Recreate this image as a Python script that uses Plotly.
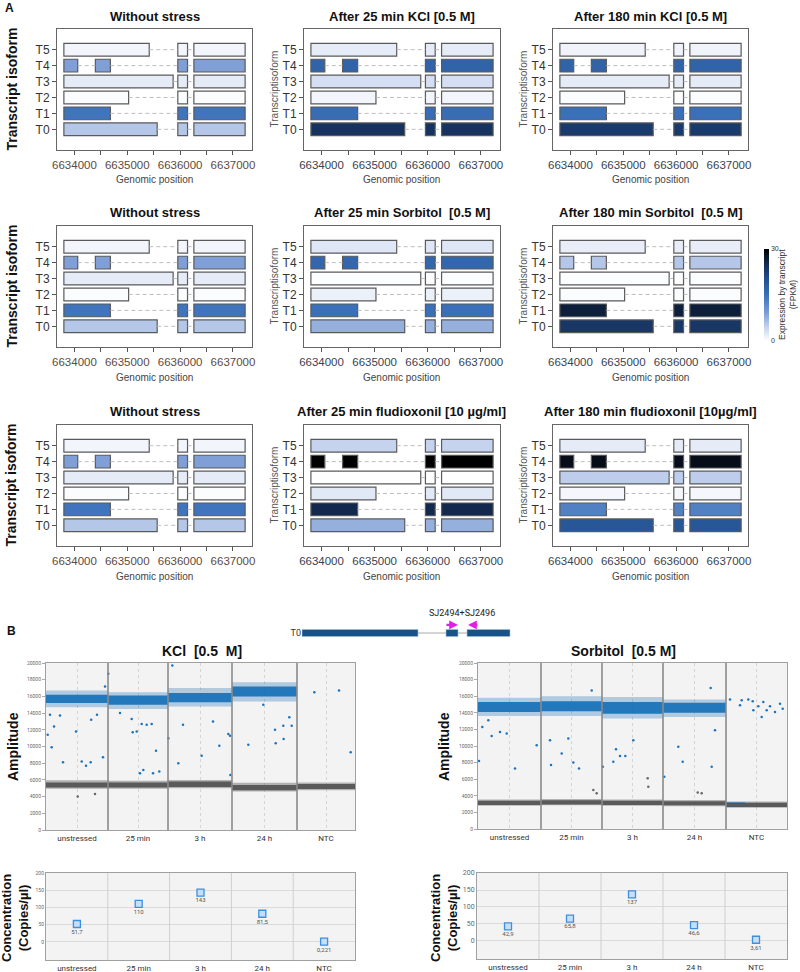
import plotly.graph_objects as go

FIG_W, FIG_H = 800, 972
FONT = "Liberation Sans, Arial, sans-serif"
FONT_B = "Roboto, Liberation Sans, sans-serif"

# ---------------- Panel A data ----------------
TRANSCRIPTS = ["T0", "T1", "T2", "T3", "T4", "T5"]
T0_EXONS = [[6633800, 6635566], [6635956, 6636140], [6636260, 6637230]]
T1_EXONS = [[6633800, 6634680], [6635956, 6636140], [6636260, 6637230]]
T2_EXONS = [[6633800, 6635025], [6635956, 6636140], [6636260, 6637230]]
T3_EXONS = [[6633800, 6635868], [6635956, 6636140], [6636260, 6637230]]
T4_EXONS = [[6633800, 6634062], [6634396, 6634680], [6635956, 6636140], [6636260, 6637230]]
T5_EXONS = [[6633800, 6635415], [6635956, 6636140], [6636260, 6637230]]
GENOMIC_TICKS = [6634000, 6635000, 6636000, 6637000]
GENOMIC_MINOR = [6634500, 6635500, 6636500]
GENOMIC_RANGE = [6633670, 6637360]

# expression (FPKM) per transcript, order T0..T5
EXPR_NO_STRESS = [5.5, 14.5, 0.3, 2.0, 9.0, 1.0]
EXPR_KCL_25 = [24.0, 15.5, 1.0, 3.3, 17.0, 2.0]
EXPR_KCL_180 = [23.0, 15.0, 0.3, 2.0, 17.0, 1.2]
EXPR_SORB_25 = [7.5, 15.0, 1.5, 0.2, 16.5, 2.5]
EXPR_SORB_180 = [23.5, 26.5, 0.3, 0.2, 5.5, 1.8]
EXPR_FLU_25 = [7.5, 25.5, 2.3, 0.1, 30.0, 4.5]
EXPR_FLU_180 = [19.0, 13.0, 0.8, 5.0, 28.5, 2.0]
EXPR_RANGE = [0, 30]

PANEL_TITLES = ["Without stress", "After 25 min KCl [0.5 M]", "After 180 min KCl [0.5 M]",
                "Without stress", "After 25 min Sorbitol\u00a0 [0.5 M]", "After 180 min Sorbitol\u00a0 [0.5 M]",
                "Without stress", "After 25 min fludioxonil [10 µg/ml]", "After 180 min fludioxonil [10µg/ml]"]
PANEL_EXPR = [EXPR_NO_STRESS, EXPR_KCL_25, EXPR_KCL_180,
              EXPR_NO_STRESS, EXPR_SORB_25, EXPR_SORB_180,
              EXPR_NO_STRESS, EXPR_FLU_25, EXPR_FLU_180]

# ---------------- Panel B data ----------------
SCHEME_LABEL = "T0"
SCHEME_EXONS = [[0, 116], [144, 156], [165, 208]]
PRIMER_FWD = [143, 156]
PRIMER_REV = [177, 166]
PRIMER_NAME = "SJ2494+SJ2496"

WELLS = ["unstressed", "25 min", "3 h", "24 h", "NTC"]

KCL_WELL_EVENTS = [15500, 15000, 16000, 16250, 14500]
KCL_POS_CORE = [[15200, 16200], [15000, 16100], [15300, 16400], [16000, 17200], None]
KCL_POS_HALO = [[14700, 16700], [14500, 16500], [14800, 17000], [15400, 17700], None]
KCL_NEG_CORE = [[5100, 5700], [5100, 5700], [5150, 5800], [4750, 5400], [4900, 5500]]
KCL_NEG_HALO = [[4950, 5950], [4950, 5900], [5000, 6000], [4600, 5650], [4750, 5700]]
KCL_OUT_POS_X = [425, 1425, 2000, 4250, 8925, 10000, 11175, 14250, 7500, 1000, 3500, 11300, 12750, 14750,
                 15575, 21675, 22675, 23925, 25175, 26425, 27500, 28325, 24325, 23500, 26750, 21425, 18500,
                 31575, 30575, 33075, 38925, 43325, 45575, 46000, 46100, 34250, 41750,
                 50575, 57250, 59325, 61425, 60825, 57425, 59400, 54325,
                 67075, 73250, 76175]
KCL_OUT_POS_Y = [11400, 9900, 12400, 8100, 8200, 7700, 8100, 8700, 11800, 13800, 13700, 13200, 13800, 17200,
                 18700, 11700, 11800, 12700, 12600, 12700, 9500, 7000, 7200, 6800, 6800, 13300, 14000,
                 19700, 11000, 8000, 8900, 10100, 11500, 11300, 6600, 12600, 13000,
                 10200, 12000, 12500, 12500, 13500, 10400, 10900, 15000,
                 16500, 16700, 9300]
KCL_OUT_NEG_X = [7925, 12250]
KCL_OUT_NEG_Y = [4000, 4300]

SORB_WELL_EVENTS = [15750, 15250, 15250, 15750, 15250]
SORB_POS_CORE = [[14100, 15300], [14200, 15400], [13900, 15300], [14000, 15200], None]
SORB_POS_HALO = [[13600, 15800], [13600, 16000], [13300, 15900], [13500, 15600], None]
SORB_NEG_CORE = [[2900, 3400], [2950, 3450], [2900, 3400], [2850, 3350], [2650, 3150]]
SORB_NEG_HALO = [[2800, 3550], [2850, 3600], [2800, 3550], [2750, 3500], [2550, 3300]]
SORB_LOWPOS_EVENTS = [62000, 66750]
SORB_LOWPOS_AMP = [3050, 3200]
SORB_OUT_POS_X = [250, 1075, 3425, 9250, 14675, 5500, 7175, 2575,
                  18250, 20925, 23825, 25250, 18000, 22575, 28425,
                  31200, 34500, 35500, 36825, 33825, 38825,
                  46575, 50075, 51175, 58425, 58175, 59250,
                  63000, 65925, 67575, 68675, 70075, 71325, 72175, 73000, 74250, 75500, 76175, 70925, 65500, 68825]
SORB_OUT_POS_Y = [8200, 12300, 11200, 7300, 10100, 11700, 11500, 13100,
                  7700, 9100, 8000, 7300, 10700, 10900, 16700,
                  7500, 9600, 8800, 8800, 8100, 10700,
                  6300, 9900, 8100, 7500, 17000, 11900,
                  15600, 15500, 15600, 15400, 14800, 15300, 14300, 14800, 14100, 15100, 14500, 13500, 14900, 14300]
SORB_OUT_NEG_X = [28825, 29675, 42425, 42575, 54925, 55925]
SORB_OUT_NEG_Y = [4700, 4300, 6100, 5100, 4400, 4300]

KCL_CONC = [51.7, 110, 143, 81.5, 0.221]
KCL_CONC_ERR = [3, 4, 4, 3.5, 0.6]
KCL_CONC_LABELS = ["51,7", "110", "143", "81,5", "0,221"]
SORB_CONC = [42.9, 65.8, 137, 46.6, 3.61]
SORB_CONC_ERR = [3, 3.5, 4, 3, 1]
SORB_CONC_LABELS = ["42,9", "65,8", "137", "46,6", "3,61"]


# ---------------- helpers ----------------
def xdom(a, b):
    return [a / FIG_W, b / FIG_W]


def ydom(a, b):
    return [1 - b / FIG_H, 1 - a / FIG_H]


def px(x):
    return x / FIG_W


def py(y):
    return 1 - y / FIG_H


def ax_names(i):
    return ("xaxis" if i == 1 else f"xaxis{i}", "yaxis" if i == 1 else f"yaxis{i}",
            "x" if i == 1 else f"x{i}", "y" if i == 1 else f"y{i}")


annotations = []
shapes = []


def ann(text, x, y, size, color="#222", bold=False, angle=0, family=FONT, xanchor="center", yanchor="middle"):
    if bold:
        text = f"<b>{text}</b>"
    annotations.append(dict(text=text, x=px(x), y=py(y), xref="paper", yref="paper", showarrow=False,
                            textangle=angle, xanchor=xanchor, yanchor=yanchor,
                            font=dict(size=size, color=color, family=family)))


def bg(box, color):
    x0, x1, y0, y1 = box
    shapes.append(dict(type="rect", xref="paper", yref="paper", x0=px(x0), x1=px(x1), y0=py(y1), y1=py(y0),
                       fillcolor=color, line=dict(width=0), layer="below"))


fig = go.Figure()
layout = {}

CS = [[0, "#ffffff"], [0.15, "#c5d3ee"], [0.3, "#7f9fd6"], [0.5, "#3a70ba"],
      [0.7, "#1f4a85"], [0.85, "#12284c"], [1, "#000000"]]
ALL_EXONS = [T0_EXONS, T1_EXONS, T2_EXONS, T3_EXONS, T4_EXONS, T5_EXONS]

COL_X = [(57, 252), (304, 500), (553, 748)]
ROW_Y = [(29, 150), (226, 347), (425, 546)]

for k in range(9):
    r, c = divmod(k, 3)
    i = k + 1
    xa, ya, xr, yr = ax_names(i)
    x0, x1 = COL_X[c]
    y0, y1 = ROW_Y[r]
    expr = PANEL_EXPR[k]
    ys, bases, lens, cols = [], [], [], []
    gx, gy = [], []
    for ti, exons in enumerate(ALL_EXONS):
        for s, e in exons:
            ys.append(ti)
            bases.append(s)
            lens.append(e - s)
            cols.append(expr[ti])
        for (s0, e0), (s1, e1) in zip(exons[:-1], exons[1:]):
            gx += [e0, s1, None]
            gy += [ti, ti, None]
    fig.add_trace(go.Scatter(x=gx, y=gy, mode="lines",
                             line=dict(color="#bdbdbd", width=1, dash="4px,3px"),
                             xaxis=xr, yaxis=yr, hoverinfo="skip", showlegend=False))
    marker = dict(color=cols, colorscale=CS, cmin=EXPR_RANGE[0], cmax=EXPR_RANGE[1],
                  line=dict(color="#5a5a5a", width=1.2), showscale=(k == 0))
    if k == 0:
        marker["colorbar"] = dict(x=px(764), xanchor="left", y=py(295), yanchor="middle",
                                  len=92 / FIG_H, lenmode="fraction", thickness=5,
                                  tickvals=EXPR_RANGE, ticks="", outlinewidth=0, xpad=0, ypad=0,
                                  tickfont=dict(size=7, color="#333", family=FONT))
    fig.add_trace(go.Bar(y=ys, x=lens, base=bases, orientation="h", width=0.8, marker=marker,
                         xaxis=xr, yaxis=yr, hoverinfo="skip", showlegend=False))
    tick_col = "#5e4a40" if c == 0 else "#3a4350"
    layout[xa] = dict(domain=xdom(x0, x1), anchor=yr, range=GENOMIC_RANGE, tickmode="array",
                      tickvals=GENOMIC_TICKS, ticktext=[str(v) for v in GENOMIC_TICKS],
                      ticks="outside", ticklen=4, tickcolor="#555",
                      minor=dict(tickmode="array", tickvals=GENOMIC_MINOR,
                                 ticks="outside", ticklen=4, tickcolor="#555", showgrid=False),
                      tickfont=dict(size=11.5, color=tick_col, family=FONT),
                      showline=True, mirror=True, linecolor="#666", linewidth=1,
                      showgrid=False, zeroline=False, fixedrange=True, automargin=False)
    layout[ya] = dict(domain=ydom(y0, y1), anchor=xr, range=[-1.3, 6.3], tickmode="array",
                      tickvals=list(range(6)), ticktext=TRANSCRIPTS, ticks="outside", ticklen=4,
                      tickcolor="#555", tickfont=dict(size=12, color="#333", family=FONT),
                      showline=True, mirror=True, linecolor="#666", linewidth=1,
                      showgrid=False, zeroline=False, fixedrange=True, automargin=False)
    ann(PANEL_TITLES[k], (x0 + x1) / 2, y0 - 13, 13, color="#111", bold=True)
    ann("Genomic position", (x0 + x1) / 2, y1 + 30, 10, color="#444")
    if c == 0:
        ann("Transcript isoform", 11, (y0 + y1) / 2, 14, color="#111", bold=True, angle=-90)
    else:
        ann("Transcriptisoform", x0 - 30, (y0 + y1) / 2, 10, color="#555", angle=-90)

ann("Expression by transcript<br>(FPKM)", 787, 295, 8.5, color="#333", angle=-90)
ann("A", 3, 8, 12, color="#111", bold=True, xanchor="left")
ann("B", 5, 631, 12, color="#111", bold=True, xanchor="left")

# ---------------- gene model (axis 10) ----------------
xa, ya, xr, yr = ax_names(10)
fig.add_trace(go.Scatter(
    x=sum([[SCHEME_EXONS[j][1], SCHEME_EXONS[j + 1][0], None] for j in range(len(SCHEME_EXONS) - 1)], []),
    y=sum([[0, 0, None] for j in range(len(SCHEME_EXONS) - 1)], []),
    mode="lines", line=dict(color="#aaaaaa", width=1), xaxis=xr, yaxis=yr, hoverinfo="skip", showlegend=False))
fig.add_trace(go.Bar(y=[0] * len(SCHEME_EXONS), base=[s for s, e in SCHEME_EXONS],
                     x=[e - s for s, e in SCHEME_EXONS], orientation="h", width=0.95,
                     marker=dict(color="#15538a", line=dict(color="#a9bfd6", width=0.6)),
                     xaxis=xr, yaxis=yr, hoverinfo="skip", showlegend=False))
layout[xa] = dict(domain=xdom(302, 520), anchor=yr, range=[0, 218], visible=False, fixedrange=True,
                  automargin=False)
layout[ya] = dict(domain=ydom(600, 645), anchor=xr, range=[-1.6, 4.4], tickmode="array", tickvals=[0],
                  ticktext=[SCHEME_LABEL], ticks="", showline=False, showgrid=False, zeroline=False,
                  tickfont=dict(size=9, color="#333", family=FONT_B), fixedrange=True, automargin=False)
for tail, head in (PRIMER_FWD, PRIMER_REV):
    annotations.append(dict(x=head, y=1.07, ax=tail, ay=1.07, xref=xr, yref=yr, axref=xr, ayref=yr,
                            text="", showarrow=True, arrowhead=2, arrowsize=0.8, arrowwidth=2.2,
                            arrowcolor="#e31ee3"))
annotations.append(dict(x=(PRIMER_FWD[0] + PRIMER_REV[0]) / 2, y=2.67, xref=xr, yref=yr, text=PRIMER_NAME,
                        showarrow=False, font=dict(size=9, color="#222", family=FONT_B)))


# ---------------- amplitude plots ----------------
def rects(bounds, ranges):
    xs, ys = [], []
    for (b0, b1), rg in zip(bounds, ranges):
        if rg is None:
            continue
        lo, hi = rg
        xs += [b0, b1, b1, b0, b0, None]
        ys += [lo, lo, hi, hi, lo, None]
    return xs, ys


def amp_plot(i, events, pos_core, pos_halo, neg_core, neg_halo, opx, opy, onx, ony, box, title, ttl_x,
             extra=None):
    xa, ya, xr, yr = ax_names(i)
    bg(box, "#f3f3f3")
    cum = [0]
    for e in events:
        cum.append(cum[-1] + e)
    bounds = list(zip(cum[:-1], cum[1:]))
    centers = [(a + b) / 2 for a, b in bounds]
    layers = [(neg_halo, "rgba(100,100,100,0.45)"), (neg_core, "rgba(85,85,85,0.95)"),
              (pos_halo, "rgba(20,110,185,0.3)"), (pos_core, "rgba(10,105,180,0.85)")]
    for rg, col in layers:
        xs, ys = rects(bounds, rg)
        fig.add_trace(go.Scatter(x=xs, y=ys, mode="lines", fill="toself", fillcolor=col, line=dict(width=0),
                                 xaxis=xr, yaxis=yr, hoverinfo="skip", showlegend=False))
    if extra is not None:
        (ex0, ex1), (ey0, ey1) = extra
        fig.add_trace(go.Scatter(x=[ex0, ex1, ex1, ex0, ex0], y=[ey0, ey0, ey1, ey1, ey0], mode="lines",
                                 fill="toself", fillcolor="rgba(10,105,180,0.8)", line=dict(width=0),
                                 xaxis=xr, yaxis=yr, hoverinfo="skip", showlegend=False))
    fig.add_trace(go.Scatter(x=onx, y=ony, mode="markers", marker=dict(size=2.5, color="#666"),
                             xaxis=xr, yaxis=yr, hoverinfo="skip", showlegend=False))
    fig.add_trace(go.Scatter(x=opx, y=opy, mode="markers", marker=dict(size=2.5, color="#1a73c0"),
                             xaxis=xr, yaxis=yr, hoverinfo="skip", showlegend=False))
    sx, sy = [], []
    for b in cum[1:-1]:
        sx += [b, b, None]
        sy += [0, 20000, None]
    fig.add_trace(go.Scatter(x=sx, y=sy, mode="lines", line=dict(color="#8a8a8a", width=1.6),
                             xaxis=xr, yaxis=yr, hoverinfo="skip", showlegend=False))
    x0, x1, y0, y1 = box
    layout[xa] = dict(domain=xdom(x0, x1), anchor=yr, range=[0, cum[-1]], tickmode="array",
                      tickvals=centers, ticktext=WELLS, ticks="", showgrid=True, gridcolor="#d4d4d4",
                      griddash="dot", gridwidth=1,
                      tickfont=dict(size=8, color="#333", family=FONT_B),
                      showline=True, mirror=True, linecolor="#a0a0a0", linewidth=1, zeroline=False,
                      fixedrange=True, automargin=False)
    layout[ya] = dict(domain=ydom(y0, y1), anchor=xr, range=[0, 20000], dtick=2000, tick0=0,
                      tickformat="d", ticks="outside", ticklen=3, tickcolor="#aaa",
                      tickfont=dict(size=5, color="#666", family=FONT_B), showgrid=False,
                      showline=True, mirror=True, linecolor="#a0a0a0", linewidth=1, zeroline=False,
                      fixedrange=True, automargin=False)
    ann(title, ttl_x, y0 - 12, 14, color="#111", bold=True)


amp_plot(11, KCL_WELL_EVENTS, KCL_POS_CORE, KCL_POS_HALO, KCL_NEG_CORE, KCL_NEG_HALO,
         KCL_OUT_POS_X, KCL_OUT_POS_Y, KCL_OUT_NEG_X, KCL_OUT_NEG_Y, (46, 355, 663, 830),
         "KCl\u00a0 [0.5\u00a0 M]", 202)
amp_plot(12, SORB_WELL_EVENTS, SORB_POS_CORE, SORB_POS_HALO, SORB_NEG_CORE, SORB_NEG_HALO,
         SORB_OUT_POS_X, SORB_OUT_POS_Y, SORB_OUT_NEG_X, SORB_OUT_NEG_Y, (478, 787, 663, 829),
         "Sorbitol\u00a0 [0.5 M]", 623, extra=(SORB_LOWPOS_EVENTS, SORB_LOWPOS_AMP))
ann("Amplitude", 13, 747, 14, color="#111", bold=True, angle=-90)
ann("Amplitude", 444, 747, 14, color="#111", bold=True, angle=-90)


# ---------------- concentration plots ----------------
def conc_plot(i, vals, errs, labels, box, ytick_size):
    xa, ya, xr, yr = ax_names(i)
    bg(box, "#f3f3f3")
    xs = list(range(len(WELLS)))
    sx, sy = [], []
    for v in xs[:-1]:
        sx += [v + 0.5, v + 0.5, None]
        sy += [-53, 200, None]
    fig.add_trace(go.Scatter(x=sx, y=sy, mode="lines", line=dict(color="#cfcfcf", width=1),
                             xaxis=xr, yaxis=yr, hoverinfo="skip", showlegend=False))
    fig.add_trace(go.Scatter(x=xs, y=vals, mode="markers+text", text=labels, textposition="bottom center",
                             textfont=dict(size=6, color="#555", family=FONT_B),
                             marker=dict(symbol="square", size=7, color="#c6def7",
                                         line=dict(color="#3d8fe0", width=1.3)),
                             error_y=dict(type="data", array=errs, color="#5a9be0", thickness=1, width=3),
                             xaxis=xr, yaxis=yr, hoverinfo="skip", showlegend=False))
    x0, x1, y0, y1 = box
    layout[xa] = dict(domain=xdom(x0, x1), anchor=yr, range=[-0.5, len(WELLS) - 0.5], tickmode="array",
                      tickvals=xs, ticktext=WELLS, ticks="", showgrid=False,
                      tickfont=dict(size=8, color="#333", family=FONT_B),
                      showline=True, mirror=True, linecolor="#a0a0a0", linewidth=1, zeroline=False,
                      fixedrange=True, automargin=False)
    layout[ya] = dict(domain=ydom(y0, y1), anchor=xr, range=[-53, 200], tickmode="array",
                      tickvals=[0, 50, 100, 150, 200], ticks="", showgrid=True, gridcolor="#dadada",
                      tickfont=dict(size=ytick_size, color="#666", family=FONT_B),
                      showline=True, mirror=True, linecolor="#a0a0a0", linewidth=1, zeroline=False,
                      fixedrange=True, automargin=False)


conc_plot(13, KCL_CONC, KCL_CONC_ERR, KCL_CONC_LABELS, (46, 355, 873, 960), 5)
conc_plot(14, SORB_CONC, SORB_CONC_ERR, SORB_CONC_LABELS, (477, 787, 873, 959), 7)
ann("Concentration<br>(Copies/µl)", 15, 918, 13, color="#111", bold=True, angle=-90)
ann("Concentration<br>(Copies/µl)", 444, 918, 13, color="#111", bold=True, angle=-90)

fig.update_layout(template="none", width=FIG_W, height=FIG_H, margin=dict(l=0, r=0, t=0, b=0),
                  autosize=False, paper_bgcolor="white", plot_bgcolor="white", barmode="overlay",
                  showlegend=False, hovermode=False, annotations=annotations, shapes=shapes, **layout)
fig.write_html("out.html", config={"displayModeBar": False},
               post_script="document.body.style.margin='0';document.body.style.overflow='hidden';")
